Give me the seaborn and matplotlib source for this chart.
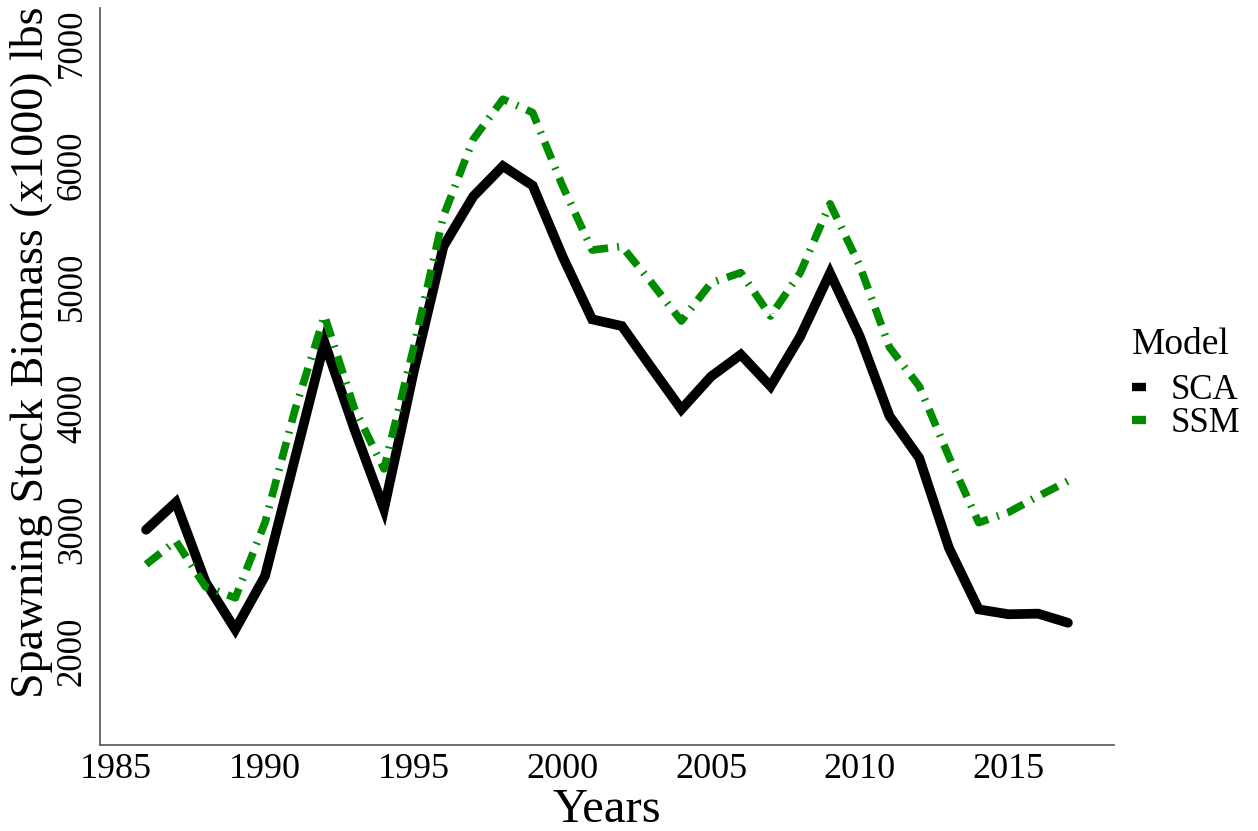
import matplotlib
matplotlib.use("Agg")
import matplotlib.pyplot as plt
from matplotlib.lines import Line2D
import seaborn as sns
import pandas as pd

years = list(range(1986, 2018))
sca = [3000, 3225, 2570, 2180, 2620, 3580, 4540, 3830, 3170, 4300,
       5330, 5740, 5990, 5830, 5250, 4730, 4675, 4330, 3990, 4260,
       4440, 4180, 4590, 5110, 4590, 3935, 3590, 2850, 2345, 2305,
       2310, 2235]
ssm = [2715, 2907, 2530, 2440, 3060, 3980, 4760, 4000, 3500, 4500,
       5580, 6210, 6540, 6430, 5830, 5300, 5330, 5030, 4716, 5030,
       5114, 4757, 5114, 5680, 5170, 4500, 4180, 3600, 3058, 3143,
       3275, 3400]
models = ["SCA", "SSM"]
colors = {"SCA": "#000000", "SSM": "#008b00"}
xticks = [1985, 1990, 1995, 2000, 2005, 2010, 2015]
yticks = [2000, 3000, 4000, 5000, 6000, 7000]

df = pd.DataFrame({
    "Years": years * 2,
    "Biomass": sca + ssm,
    "Model": ["SCA"] * len(years) + ["SSM"] * len(years),
})

sns.set_style("white")
plt.rcParams["font.family"] = ["Liberation Serif", "DejaVu Serif"]
plt.rcParams["text.color"] = "black"
plt.rcParams["axes.labelcolor"] = "black"

fig = plt.figure(figsize=(12.58, 8.31), dpi=100)
ax = fig.add_axes([100 / 1258, 1 - 745 / 831, (1114 - 100) / 1258, (745 - 8) / 831])

sns.lineplot(data=df[df.Model == "SCA"], x="Years", y="Biomass", ax=ax,
             color=colors["SCA"], lw=7, legend=False)
sns.lineplot(data=df[df.Model == "SSM"], x="Years", y="Biomass", ax=ax,
             color=colors["SSM"], lw=5.5, legend=False,
             linestyle=(0, (2.4, 1.2, 0.25, 1.2)))
for ln in ax.lines:
    ln.set_solid_joinstyle("miter")
    ln.set_dash_capstyle("butt")

ax.set_xlim(1984.45, 2018.55)
ax.set_ylim(1230, 7290)
ax.set_xticks(xticks)
ax.set_yticks(yticks)
ax.tick_params(axis="x", labelsize=26, colors="#555555", length=4, width=1,
               labelcolor="black", pad=2)
ax.tick_params(axis="y", labelsize=25, colors="#555555", length=4, width=1,
               labelcolor="black", pad=4, labelrotation=90)
for lab in ax.get_yticklabels():
    lab.set_rotation_mode("anchor")
    lab.set_horizontalalignment("center")
    lab.set_verticalalignment("bottom")
for s in ["top", "right"]:
    ax.spines[s].set_visible(False)
for s in ["left", "bottom"]:
    ax.spines[s].set_color("#555555")
    ax.spines[s].set_linewidth(1.2)

ax.set_xlabel("Years", fontsize=35, labelpad=1)
ax.set_ylabel("Spawning Stock Biomass (x1000) lbs", fontsize=33)
ax.yaxis.set_label_coords(-0.046, (745 - 352) / 737)

handles = [Line2D([0], [0], color=colors[m], lw=6, solid_capstyle="butt") for m in models]
leg = fig.legend(handles, models, title="Model", loc="upper left",
                 bbox_to_anchor=(1115 / 1258, 1 - 310 / 831), frameon=False,
                 fontsize=25, title_fontsize=27, handlelength=0.4,
                 handletextpad=0.7, labelspacing=0.0, borderpad=0)
leg._legend_box.align = "left"
leg._legend_box.sep = 9

fig.savefig("out.png", dpi=100, facecolor="white")
